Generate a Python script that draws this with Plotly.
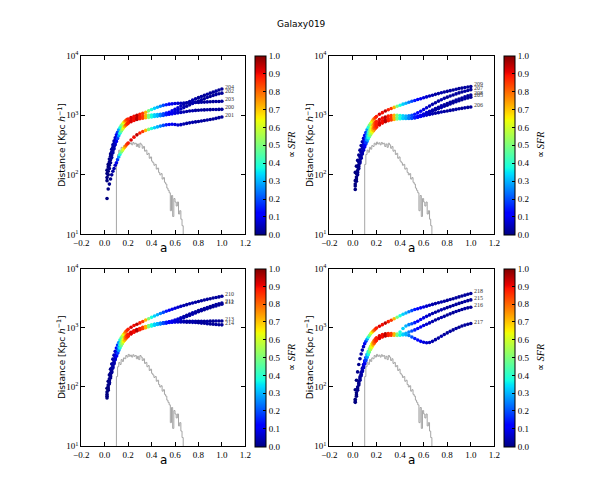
import math
import plotly.graph_objects as go

# ---------------- data ----------------
A = [0.02, 0.03, 0.04, 0.05, 0.06, 0.07, 0.08, 0.09, 0.10, 0.11, 0.12, 0.13, 0.14, 0.15, 0.16, 0.17, 0.18, 0.19, 0.20,
     0.225, 0.25, 0.275, 0.3, 0.325, 0.35, 0.375, 0.4, 0.425, 0.45, 0.475, 0.5, 0.525, 0.55, 0.575, 0.6, 0.625,
     0.65, 0.675, 0.7, 0.725, 0.75, 0.775, 0.8, 0.825, 0.85, 0.875, 0.9, 0.925, 0.95, 0.975, 1.0]

SFR_COLOR = [0.0, 0.0, 0.01, 0.01, 0.02, 0.03, 0.04, 0.06, 0.1, 0.18, 0.28, 0.38, 0.48, 0.56, 0.64, 0.72, 0.8, 0.85, 0.88,
             0.92, 0.9, 0.95, 0.88, 0.85, 0.72, 0.5, 0.38, 0.33, 0.3, 0.25, 0.2, 0.15, 0.12, 0.1, 0.08, 0.07, 0.05, 0.04,
             0.03, 0.03, 0.04, 0.03, 0.02, 0.03, 0.02, 0.03, 0.02, 0.02, 0.03, 0.02, 0.02]

HIST_A = [0.09, 0.10, 0.11, 0.12, 0.13, 0.14, 0.15, 0.16, 0.17, 0.18, 0.19, 0.20, 0.21, 0.22, 0.23, 0.24, 0.25, 0.26,
          0.27, 0.28, 0.29, 0.30, 0.31, 0.32, 0.33, 0.34, 0.35, 0.36, 0.37, 0.38, 0.39, 0.40, 0.41, 0.42, 0.43, 0.44,
          0.45, 0.46, 0.47, 0.48, 0.49, 0.50, 0.51, 0.52, 0.53, 0.54, 0.55, 0.56, 0.57, 0.58, 0.59, 0.60, 0.61, 0.62,
          0.63, 0.64, 0.65, 0.66, 0.67, 0.68]
HIST_SFR = [5, 150, 220, 260, 240, 290, 270, 310, 300, 340, 320, 355, 330, 345, 320, 350, 330, 340, 300, 330,
            290, 340, 320, 280, 300, 250, 260, 220, 230, 190, 200, 170, 160, 145, 150, 125, 130, 110, 100, 105,
            85, 90, 75, 70, 60, 55, 50, 25, 45, 20, 40, 35, 30, 35, 22, 25, 18, 14, 5, 5]

# panel 1
d200 = [80, 100, 128, 160, 195, 235, 275, 320, 365, 410, 455, 500, 540, 580, 615, 650, 680, 710, 735,
        780, 820, 850, 875, 895, 910, 925, 940, 955, 970, 985, 1000, 1020, 1040, 1060, 1080, 1100, 1120, 1140, 1160,
        1180, 1195, 1210, 1220, 1230, 1235, 1240, 1245, 1250, 1255, 1258, 1260]
d201 = [40, 58, 70, 85, 100, 115, 128, 145, 160, 180, 200, 220, 240, 255, 272, 290, 308, 326, 344,
        385, 430, 470, 505, 535, 560, 580, 600, 620, 640, 660, 678, 692, 702, 708, 700, 690, 698, 715, 732, 748,
        762, 776, 790, 805, 820, 835, 850, 870, 890, 915, 940]
d202 = [90, 115, 145, 180, 215, 255, 300, 345, 390, 435, 480, 525, 570, 610, 645, 680, 710, 740, 765,
        810, 850, 880, 905, 925, 940, 955, 965, 975, 985, 995, 1010, 1030, 1060, 1100, 1150, 1210, 1280, 1350, 1420,
        1500, 1580, 1660, 1740, 1820, 1900, 1990, 2070, 2150, 2230, 2300, 2360]
d203 = [120, 150, 185, 225, 270, 320, 370, 420, 470, 520, 570, 620, 670, 710, 750, 790, 820, 850, 870,
        920, 960, 1000, 1040, 1080, 1130, 1190, 1250, 1310, 1370, 1420, 1470, 1510, 1540, 1560, 1580, 1590, 1600,
        1610, 1620, 1630, 1640, 1645, 1650, 1660, 1670, 1680, 1690, 1700, 1705, 1710, 1720]
d204 = [105, 135, 165, 205, 245, 290, 335, 385, 430, 480, 530, 580, 625, 665, 705, 740, 770, 800, 825,
        870, 900, 930, 950, 970, 990, 1000, 1010, 1020, 1030, 1040, 1060, 1090, 1130, 1190, 1260, 1340, 1430, 1520,
        1610, 1700, 1800, 1890, 1980, 2070, 2160, 2260, 2360, 2450, 2550, 2660, 2770]
# panel 2
d205 = [57, 78, 100, 128, 158, 190, 225, 260, 295, 330, 365, 400, 435, 470, 505, 540, 570, 600, 630,
        690, 740, 780, 810, 835, 855, 870, 880, 885, 885, 885, 890, 905, 930, 965, 1010, 1060, 1110, 1170, 1230,
        1290, 1350, 1420, 1480, 1550, 1620, 1690, 1760, 1830, 1900, 1960, 2020]
d206 = [65, 85, 110, 138, 168, 200, 236, 272, 310, 348, 385, 422, 460, 495, 530, 565, 600, 630, 660,
        720, 770, 810, 840, 860, 875, 885, 890, 890, 890, 895, 905, 920, 940, 960, 985, 1010, 1035, 1060, 1085,
        1110, 1135, 1160, 1185, 1210, 1235, 1260, 1290, 1310, 1335, 1360, 1380]
d207 = [80, 105, 135, 165, 200, 240, 280, 325, 370, 415, 460, 505, 550, 595, 640, 680, 720, 760, 790,
        850, 900, 940, 970, 990, 1000, 1000, 990, 980, 975, 980, 1000, 1040, 1100, 1170, 1250, 1340, 1430, 1530,
        1630, 1730, 1830, 1930, 2020, 2110, 2200, 2290, 2380, 2460, 2540, 2620, 2700]
d208 = [70, 92, 118, 148, 180, 215, 252, 290, 330, 370, 410, 450, 490, 530, 570, 605, 640, 675, 705,
        760, 810, 850, 880, 900, 910, 915, 915, 910, 905, 905, 910, 930, 960, 1000, 1050, 1110, 1170, 1230, 1300,
        1370, 1440, 1510, 1580, 1650, 1720, 1800, 1880, 1960, 2040, 2120, 2200]
d209 = [110, 140, 175, 215, 260, 310, 360, 410, 460, 515, 570, 625, 680, 730, 780, 830, 875, 915, 955,
        1040, 1110, 1180, 1240, 1300, 1360, 1420, 1480, 1540, 1600, 1660, 1720, 1780, 1840, 1900, 1970, 2040, 2110,
        2180, 2250, 2320, 2390, 2460, 2530, 2600, 2670, 2740, 2810, 2870, 2930, 2990, 3050]
# panel 3
d210 = [95, 125, 160, 200, 245, 295, 345, 400, 455, 510, 565, 620, 670, 720, 770, 815, 860, 900, 940,
        1020, 1090, 1150, 1210, 1280, 1350, 1420, 1500, 1580, 1660, 1740, 1820, 1900, 1980, 2060, 2140, 2220, 2300,
        2380, 2460, 2540, 2620, 2700, 2780, 2860, 2940, 3020, 3100, 3180, 3250, 3320, 3400]
d211 = [75, 100, 128, 160, 195, 235, 278, 322, 365, 410, 455, 500, 545, 585, 625, 665, 700, 735, 765,
        830, 880, 920, 960, 1000, 1040, 1080, 1110, 1140, 1170, 1190, 1210, 1230, 1260, 1300, 1350, 1410, 1480,
        1550, 1630, 1710, 1790, 1870, 1950, 2030, 2110, 2200, 2290, 2380, 2460, 2540, 2620]
d212 = [70, 93, 120, 150, 183, 220, 260, 302, 345, 388, 430, 472, 515, 555, 595, 632, 668, 700, 730,
        795, 850, 895, 935, 975, 1010, 1050, 1085, 1115, 1145, 1170, 1190, 1210, 1235, 1265, 1305, 1355, 1415,
        1480, 1550, 1620, 1700, 1780, 1860, 1940, 2020, 2100, 2180, 2260, 2340, 2420, 2500]
d213 = [82, 108, 138, 172, 208, 248, 290, 335, 380, 425, 470, 515, 558, 600, 640, 678, 713, 746, 776,
        840, 890, 935, 975, 1015, 1050, 1085, 1115, 1145, 1170, 1195, 1215, 1235, 1250, 1260, 1270, 1275, 1280,
        1285, 1290, 1290, 1290, 1290, 1285, 1285, 1290, 1290, 1295, 1295, 1300, 1300, 1300]
d214 = [65, 88, 113, 142, 175, 210, 248, 288, 330, 372, 414, 456, 498, 540, 580, 618, 655, 690, 722,
        790, 845, 890, 930, 970, 1005, 1040, 1075, 1105, 1135, 1160, 1185, 1205, 1225, 1240, 1250, 1255, 1255,
        1250, 1245, 1240, 1235, 1225, 1215, 1200, 1190, 1175, 1160, 1150, 1135, 1125, 1120]
# panel 4
d215 = [62, 80, 100, 122, 148, 176, 206, 240, 276, 315, 355, 398, 440, 485, 530, 570, 610, 645, 680,
        730, 765, 790, 800, 800, 790, 780, 850, 970, 1070, 1130, 1170, 1220, 1290, 1380, 1470, 1560, 1650, 1740,
        1830, 1920, 2010, 2100, 2190, 2280, 2380, 2480, 2580, 2680, 2780, 2870, 2960]
d216 = [58, 74, 93, 114, 138, 164, 192, 223, 256, 292, 330, 370, 410, 450, 490, 530, 565, 600, 630,
        680, 715, 740, 755, 760, 760, 755, 760, 780, 810, 845, 880, 920, 970, 1030, 1090, 1150, 1210, 1280, 1350,
        1420, 1490, 1560, 1640, 1720, 1800, 1880, 1960, 2040, 2110, 2170, 2220]
d217 = [55, 70, 88, 108, 130, 155, 182, 212, 244, 278, 314, 352, 390, 430, 470, 510, 545, 580, 610,
        660, 700, 725, 740, 750, 750, 745, 750, 760, 760, 740, 700, 660, 620, 590, 570, 560, 565, 590, 630, 670,
        720, 770, 820, 870, 920, 970, 1020, 1070, 1110, 1150, 1180]
d218 = [90, 130, 180, 240, 300, 360, 420, 480, 540, 590, 640, 690, 740, 790, 830, 870, 910, 950, 990,
        1060, 1130, 1200, 1270, 1340, 1420, 1510, 1600, 1690, 1780, 1870, 1950, 2030, 2100, 2170, 2240, 2320, 2400,
        2480, 2560, 2640, 2720, 2810, 2900, 3000, 3100, 3200, 3320, 3440, 3560, 3680, 3800]

PANELS = [
    [("204", d204), ("202", d202), ("203", d203), ("200", d200), ("201", d201)],
    [("209", d209), ("207", d207), ("208", d208), ("205", d205), ("206", d206)],
    [("210", d210), ("211", d211), ("212", d212), ("213", d213), ("214", d214)],
    [("218", d218), ("215", d215), ("216", d216), ("217", d217)],
]
X_TICKS = [-0.2, 0.0, 0.2, 0.4, 0.6, 0.8, 1.0, 1.2]
X_TICKTEXT = ["\u22120.2", "0.0", "0.2", "0.4", "0.6", "0.8", "1.0", "1.2"]
Y_TICKS = [10, 100, 1000, 10000]
Y_TICKTEXT = ["10<sup>1</sup>", "10<sup>2</sup>", "10<sup>3</sup>", "10<sup>4</sup>"]
CB_TICKS = [0.0, 0.1, 0.2, 0.3, 0.4, 0.5, 0.6, 0.7, 0.8, 0.9, 1.0]

# ---------------- layout geometry (pixels) ----------------
W, H = 600, 500
COLS = [(75, 243), (329, 498)]
ROWS = [(50, 233), (268, 450)]
CB_X = [253, 508]
CB_W = 11

JET = [[0.0, "rgb(0,0,128)"], [0.11, "rgb(0,0,255)"], [0.125, "rgb(0,0,255)"], [0.34, "rgb(0,219,255)"],
       [0.35, "rgb(0,229,247)"], [0.375, "rgb(20,255,226)"], [0.64, "rgb(238,255,8)"], [0.65, "rgb(247,245,0)"],
       [0.66, "rgb(255,236,0)"], [0.89, "rgb(255,19,0)"], [0.91, "rgb(232,0,0)"], [1.0, "rgb(128,0,0)"]]

SERIF = "Liberation Serif"
SANS = "DejaVu Sans"

fig = go.Figure()
layout = dict(width=W, height=H, margin=dict(l=0, r=0, t=0, b=0), paper_bgcolor="white",
              plot_bgcolor="white", showlegend=False)
annotations = []

for i, tracks in enumerate(PANELS):
    n = i + 1
    sfx = "" if n == 1 else str(n)
    col, row = i % 2, i // 2
    x0, x1 = COLS[col]
    y0, y1 = ROWS[row]
    xa, ya = "x" + sfx, "y" + sfx
    for lst_ in tracks:
        assert len(lst_[1]) == len(A), lst_[0]
    # gray SFR histogram
    fig.add_trace(go.Scatter(x=HIST_A, y=HIST_SFR, mode="lines", line=dict(color="rgb(165,165,165)", width=1, shape="hv"),
                             xaxis=xa, yaxis=ya, hoverinfo="skip"))
    for name, d in tracks:
        fig.add_trace(go.Scatter(x=A, y=d, mode="markers", xaxis=xa, yaxis=ya, name=name,
                                 marker=dict(size=3.6, color=SFR_COLOR, coloraxis="coloraxis" + sfx, line=dict(width=0))))
        annotations.append(dict(x=A[-1], y=math.log10(d[-1]), xref=xa, yref=ya, text=name, showarrow=False,
                                xanchor="left", yanchor="middle", xshift=1, yshift=2,
                                font=dict(family=SERIF, size=6, color="#333333")))
    layout["xaxis" + sfx] = dict(domain=[x0 / W, x1 / W], anchor=ya, range=[-0.2, 1.2], tickvals=X_TICKS,
                                 ticktext=X_TICKTEXT, ticks="inside", ticklen=4, tickcolor="black", showline=True,
                                 linecolor="black", linewidth=1, mirror="ticks", showgrid=False, zeroline=False,
                                 tickfont=dict(family=SERIF, size=9, color="black"))
    layout["yaxis" + sfx] = dict(domain=[1 - y1 / H, 1 - y0 / H], anchor=xa, type="log", range=[1, 4],
                                 tickvals=Y_TICKS, ticktext=Y_TICKTEXT, ticks="inside", ticklen=4,
                                 tickcolor="black", showline=True, linecolor="black", linewidth=1, mirror="ticks",
                                 showgrid=False, zeroline=False, tickfont=dict(family=SERIF, size=9, color="black"))
    layout["coloraxis" + sfx] = dict(cmin=0, cmax=1, colorscale=JET, colorbar=dict(
        x=CB_X[col] / W, xanchor="left", xpad=0, y=1 - y0 / H, yanchor="top", ypad=0,
        len=(y1 - y0) / H, lenmode="fraction", thickness=CB_W, thicknessmode="pixels",
        outlinewidth=1, outlinecolor="black", tickvals=CB_TICKS, ticktext=["%.1f" % v for v in CB_TICKS],
        ticks="inside", ticklen=3, tickcolor="black", tickfont=dict(family=SERIF, size=9, color="black")))
    # axis labels
    annotations.append(dict(x=(x0 + x1) / 2 / W, y=1 - (y1 + 14) / H, xref="paper", yref="paper", text="a",
                            showarrow=False, xanchor="center", yanchor="middle",
                            font=dict(family=SANS, size=12, color="black")))
    annotations.append(dict(x=(x0 - 20) / W, y=1 - (y0 + y1) / 2 / H, xref="paper", yref="paper",
                            text="Distance [Kpc <i>h</i><sup>\u22121</sup>]", textangle=-90, showarrow=False,
                            xanchor="center", yanchor="middle", font=dict(family=SANS, size=9, color="black")))
    annotations.append(dict(x=(CB_X[col] + 37) / W, y=1 - (y0 + y1) / 2 / H, xref="paper", yref="paper",
                            text="\u221d <i>SFR</i>", textangle=-90, showarrow=False,
                            xanchor="center", yanchor="middle", font=dict(family=SERIF, size=10, color="black")))

annotations.append(dict(x=0.5, y=1 - 17 / H, xref="paper", yref="paper", text="Galaxy019", showarrow=False,
                        xanchor="center", yanchor="middle", font=dict(family=SANS, size=9, color="black")))
layout["annotations"] = annotations
fig.update_layout(**layout)
fig.write_html("out.html")
